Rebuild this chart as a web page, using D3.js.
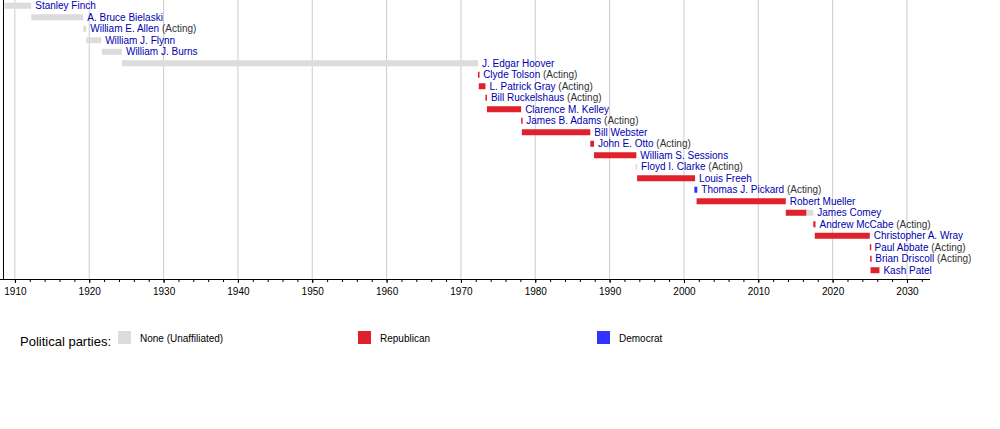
<!DOCTYPE html>
<html><head><meta charset="utf-8">
<script src="https://cdn.jsdelivr.net/npm/d3@7"></script>
<style>body{margin:0;background:#fff}text{font-family:"Liberation Sans",Arial,sans-serif}</style>
</head><body><div id="chart"></div>
<script>
const names = ["Stanley Finch","A. Bruce Bielaski","William E. Allen","William J. Flynn","William J. Burns","J. Edgar Hoover","Clyde Tolson","L. Patrick Gray","Bill Ruckelshaus","Clarence M. Kelley","James B. Adams","Bill Webster","John E. Otto","William S. Sessions","Floyd I. Clarke","Louis Freeh","Thomas J. Pickard","Robert Mueller","James Comey","Andrew McCabe","Christopher A. Wray","Paul Abbate","Brian Driscoll","Kash Patel"];
const acting = [0,0,1,0,0,0,1,1,1,0,1,0,1,0,1,0,1,0,0,1,0,1,1,0];
// segments: [row, start, end, party]
const segments = [
  [0,1908.6,1912.2,"none"],[1,1912.2,1919.2,"none"],[2,1919.2,1919.6,"none"],[3,1919.6,1921.6,"none"],
  [4,1921.7,1924.4,"none"],[5,1924.4,1972.3,"none"],[6,1972.3,1972.45,"rep"],[7,1972.4,1973.3,"rep"],
  [8,1973.3,1973.5,"rep"],[9,1973.5,1978.1,"rep"],[10,1978.1,1978.25,"rep"],[11,1978.2,1987.4,"rep"],
  [12,1987.4,1987.9,"rep"],[13,1987.9,1993.6,"rep"],[14,1993.5,1993.7,"none"],[15,1993.7,2001.5,"rep"],
  [16,2001.4,2001.8,"dem"],[17,2001.7,2013.7,"rep"],[18,2013.7,2016.5,"rep"],[18,2016.5,2017.4,"none"],
  [19,2017.4,2017.7,"rep"],[20,2017.6,2025.0,"rep"],[21,2025.0,2025.1,"rep"],[22,2025.05,2025.2,"rep"],
  [23,2025.1,2026.3,"rep"]
];
const parties = ["none","rep","dem"];
const partyNames = ["None (Unaffiliated)","Republican","Democrat"];
const partyColors = ["#dcdcdc","#e0202a","#3333ff"];

const W = 1000, H = 429;
const svg = d3.select("#chart").append("svg").attr("width", W).attr("height", H);
const x = d3.scaleLinear().domain([1908.4, 2033.1]).range([3, 930]);
const y = d3.scaleBand().domain(d3.range(names.length)).range([0, 276]);
const color = d3.scaleOrdinal().domain(parties).range(partyColors);
const axisY = 279;

svg.selectAll("line.grid").data(d3.range(1910, 2031, 10)).enter().append("line")
  .attr("x1", d => x(d)).attr("x2", d => x(d)).attr("y1", 0).attr("y2", axisY)
  .attr("stroke", "#ccc").attr("stroke-width", 1);

svg.append("line").attr("x1", 3.5).attr("x2", 3.5).attr("y1", 0).attr("y2", axisY).attr("stroke", "#000");

const ends = {};
segments.forEach(s => { ends[s[0]] = Math.max(ends[s[0]] || 0, s[2]); });

svg.selectAll("rect.bar").data(segments).enter().append("rect")
  .attr("x", d => x(d[1])).attr("width", d => Math.max(1.5, x(d[2]) - x(d[1])))
  .attr("y", d => y(d[0]) + y.bandwidth() / 2 - 3).attr("height", 6)
  .attr("fill", d => color(d[3]));

const lab = svg.selectAll("text.name").data(names).enter().append("text")
  .attr("x", (d, i) => x(ends[i]) + 4).attr("y", (d, i) => y(i) + y.bandwidth() / 2 + 3.5)
  .attr("font-size", 10);
lab.append("tspan").attr("fill", "#0000b0").text(d => d);
lab.append("tspan").attr("fill", "#333").text((d, i) => acting[i] ? " (Acting)" : "");

const g = svg.append("g").attr("transform", `translate(0,${axisY})`);
g.call(d3.axisBottom(x).tickValues(d3.range(1910, 2031, 10)).tickSize(4).tickFormat(d3.format("d")));
g.append("g").call(d3.axisBottom(x).tickValues(d3.range(1910, 2033, 2)).tickSize(3).tickFormat(""))
  .select(".domain").remove();
g.selectAll("text").attr("font-size", 10).attr("fill", "#000").attr("dy", "0.9em");
g.select(".domain").attr("d", `M0,0.5H${x(2033.1)}`);

svg.append("text").attr("x", 20).attr("y", 346).attr("font-size", 13).text("Political parties:");
const leg = svg.selectAll("g.leg").data(parties).enter().append("g")
  .attr("transform", (d, i) => `translate(${[118, 358, 597][i]},331)`);
leg.append("rect").attr("width", 13).attr("height", 13).attr("fill", d => color(d));
leg.append("text").attr("x", 22).attr("y", 11).attr("font-size", 10).text((d, i) => partyNames[i]);
</script></body></html>
